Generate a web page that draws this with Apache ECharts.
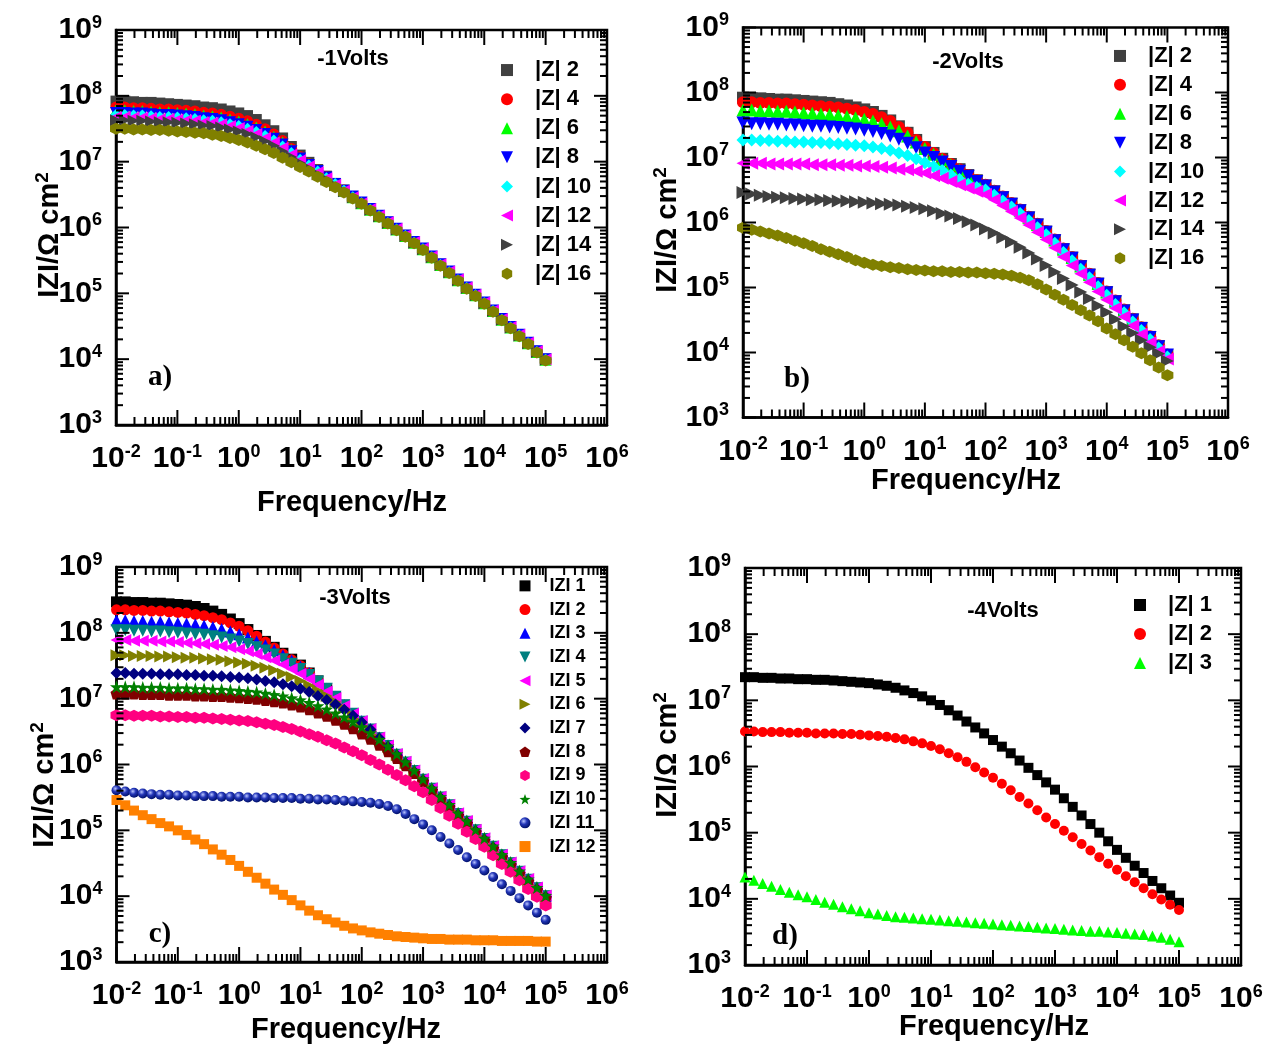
<!DOCTYPE html>
<html>
<head>
<meta charset="utf-8">
<script src="https://cdn.jsdelivr.net/npm/echarts@6/dist/echarts.min.js"></script>
<style>
  html, body { margin: 0; padding: 0; background: #fff; }
  #chart { width: 1273px; height: 1047px; }
</style>
</head>
<body>
<div id="chart"></div>
<script>
// Measurement frequencies (Hz), 7 points per decade from 10 mHz to 100 kHz
const FREQ = [
  0.01, 0.013895, 0.019307, 0.026827, 0.037276, 0.051795, 0.071969,
  0.1, 0.13895, 0.19307, 0.26827, 0.37276, 0.51795, 0.71969,
  1, 1.3895, 1.9307, 2.6827, 3.7276, 5.1795, 7.1969,
  10, 13.895, 19.307, 26.827, 37.276, 51.795, 71.969,
  100, 138.95, 193.07, 268.27, 372.76, 517.95, 719.69,
  1000, 1389.5, 1930.7, 2682.7, 3727.6, 5179.5, 7196.9,
  10000, 13895, 19307, 26827, 37276, 51795, 71969,
  100000
];

// Tick decades of the axes
const X_DECADES = [-2, 6];
const Y_DECADES = [3, 9];

// ---- |Z| data, given as log10(|Z| / Ω cm²) at each frequency ----
// a) -1 V
const A_Z2  = [7.92,7.92,7.91,7.90,7.90,7.89,7.88, 7.87,7.86,7.85,7.83,7.82,7.80,7.77, 7.74,7.70,7.64,7.56,7.47,7.36,7.23, 7.10,6.99,6.88,6.78,6.67,6.57,6.47, 6.38,6.28,6.18,6.08,5.98,5.88,5.78, 5.68,5.56,5.44,5.33,5.21,5.09,4.98, 4.86,4.74,4.61,4.49,4.37,4.25,4.12,4.00];
const A_Z4  = [7.83,7.83,7.82,7.82,7.81,7.80,7.80, 7.79,7.78,7.77,7.75,7.74,7.72,7.69, 7.66,7.62,7.57,7.50,7.42,7.32,7.20, 7.08,6.97,6.87,6.77,6.67,6.57,6.47, 6.38,6.28,6.18,6.08,5.98,5.88,5.78, 5.68,5.56,5.44,5.33,5.21,5.09,4.98, 4.86,4.74,4.61,4.49,4.37,4.25,4.12,4.00];
const A_Z6  = [7.78,7.78,7.77,7.77,7.76,7.75,7.75, 7.74,7.73,7.72,7.70,7.69,7.67,7.64, 7.61,7.57,7.52,7.46,7.38,7.29,7.18, 7.06,6.96,6.86,6.76,6.66,6.56,6.46, 6.37,6.27,6.17,6.07,5.97,5.87,5.77, 5.67,5.55,5.43,5.32,5.20,5.08,4.97, 4.85,4.73,4.60,4.48,4.36,4.24,4.11,3.99];
const A_Z8  = [7.74,7.74,7.73,7.73,7.72,7.71,7.71, 7.70,7.69,7.68,7.66,7.65,7.63,7.60, 7.57,7.53,7.48,7.42,7.35,7.26,7.16, 7.05,6.95,6.86,6.76,6.66,6.56,6.47, 6.38,6.28,6.18,6.08,5.98,5.88,5.78, 5.68,5.56,5.44,5.33,5.21,5.09,4.98, 4.86,4.74,4.61,4.49,4.37,4.25,4.12,4.00];
const A_Z10 = [7.71,7.71,7.70,7.70,7.69,7.68,7.68, 7.67,7.66,7.65,7.63,7.62,7.60,7.57, 7.54,7.50,7.45,7.39,7.32,7.23,7.13, 7.03,6.94,6.85,6.75,6.66,6.56,6.46, 6.37,6.27,6.17,6.07,5.97,5.87,5.77, 5.67,5.55,5.43,5.32,5.20,5.08,4.97, 4.85,4.73,4.60,4.48,4.36,4.24,4.11,3.99];
const A_Z12 = [7.68,7.68,7.67,7.67,7.66,7.65,7.65, 7.64,7.63,7.62,7.60,7.59,7.57,7.54, 7.51,7.47,7.42,7.36,7.29,7.21,7.11, 7.02,6.93,6.84,6.75,6.65,6.56,6.46, 6.37,6.28,6.18,6.08,5.98,5.88,5.78, 5.68,5.56,5.44,5.33,5.21,5.09,4.98, 4.86,4.74,4.61,4.49,4.37,4.25,4.12,4.00];
const A_Z14 = [7.63,7.63,7.62,7.62,7.61,7.60,7.60, 7.59,7.58,7.57,7.55,7.54,7.52,7.49, 7.46,7.42,7.37,7.31,7.24,7.16,7.07, 6.98,6.90,6.81,6.73,6.64,6.55,6.46, 6.37,6.27,6.17,6.07,5.97,5.87,5.77, 5.67,5.55,5.43,5.32,5.20,5.08,4.97, 4.85,4.73,4.60,4.48,4.36,4.24,4.11,3.99];
const A_Z16 = [7.50,7.50,7.49,7.49,7.48,7.48,7.47, 7.46,7.45,7.44,7.43,7.41,7.39,7.36, 7.33,7.29,7.24,7.19,7.13,7.06,6.99, 6.92,6.85,6.77,6.69,6.61,6.53,6.44, 6.36,6.26,6.16,6.06,5.96,5.86,5.76, 5.66,5.54,5.42,5.31,5.19,5.07,4.96, 4.84,4.72,4.59,4.47,4.35,4.23,4.10,3.98];

// b) -2 V
const B_Z2  = [7.92,7.91,7.91,7.90,7.89,7.89,7.88, 7.87,7.86,7.85,7.84,7.82,7.80,7.77, 7.74,7.70,7.64,7.57,7.48,7.38,7.27, 7.16,7.07,6.98,6.90,6.82,6.73,6.65, 6.57,6.48,6.39,6.29,6.19,6.08,5.97, 5.86,5.73,5.59,5.46,5.33,5.20,5.06, 4.93,4.79,4.65,4.51,4.38,4.24,4.10,3.96];
const B_Z4  = [7.85,7.85,7.84,7.84,7.83,7.83,7.82, 7.81,7.80,7.79,7.78,7.77,7.75,7.73, 7.70,7.67,7.62,7.56,7.47,7.38,7.27, 7.16,7.07,6.98,6.90,6.82,6.73,6.65, 6.58,6.49,6.40,6.30,6.20,6.09,5.98, 5.87,5.74,5.60,5.47,5.34,5.21,5.07, 4.94,4.80,4.66,4.52,4.39,4.25,4.11,3.97];
const B_Z6  = [7.73,7.73,7.72,7.72,7.71,7.71,7.70, 7.69,7.68,7.67,7.66,7.65,7.63,7.61, 7.59,7.56,7.52,7.47,7.41,7.33,7.24, 7.14,7.05,6.97,6.89,6.81,6.72,6.64, 6.57,6.48,6.39,6.29,6.19,6.08,5.97, 5.86,5.73,5.59,5.46,5.33,5.20,5.06, 4.93,4.79,4.65,4.51,4.38,4.24,4.10,3.96];
const B_Z8  = [7.53,7.52,7.52,7.51,7.51,7.50,7.50, 7.49,7.48,7.48,7.47,7.46,7.45,7.44, 7.42,7.40,7.37,7.33,7.28,7.22,7.15, 7.07,7.00,6.93,6.86,6.79,6.71,6.63, 6.56,6.47,6.38,6.28,6.18,6.07,5.96, 5.85,5.72,5.58,5.45,5.32,5.19,5.05, 4.92,4.78,4.64,4.50,4.37,4.23,4.09,3.96];
const B_Z10 = [7.27,7.27,7.26,7.26,7.25,7.25,7.24, 7.24,7.23,7.23,7.22,7.21,7.20,7.19, 7.18,7.16,7.14,7.11,7.07,7.03,6.98, 6.92,6.86,6.80,6.73,6.66,6.59,6.54, 6.50,6.42,6.33,6.24,6.14,6.03,5.92, 5.81,5.68,5.54,5.41,5.28,5.15,5.01, 4.88,4.74,4.61,4.47,4.34,4.20,4.07,3.93];
const B_Z12 = [6.91,6.91,6.91,6.90,6.90,6.90,6.90, 6.90,6.89,6.89,6.89,6.88,6.88,6.87, 6.87,6.86,6.85,6.84,6.82,6.81,6.79, 6.76,6.72,6.68,6.63,6.58,6.53,6.48, 6.43,6.35,6.26,6.17,6.07,5.96,5.85, 5.74,5.61,5.47,5.34,5.21,5.08,4.94, 4.81,4.68,4.55,4.41,4.28,4.15,4.02,3.90];
const B_Z14 = [6.46,6.44,6.42,6.40,6.39,6.38,6.37, 6.36,6.35,6.35,6.34,6.33,6.33,6.32, 6.31,6.30,6.29,6.28,6.27,6.25,6.23, 6.21,6.18,6.14,6.10,6.06,6.01,5.96, 5.90,5.84,5.77,5.70,5.62,5.53,5.44, 5.34,5.24,5.14,5.04,4.93,4.83,4.72, 4.62,4.51,4.40,4.30,4.19,4.08,3.98,3.87];
const B_Z16 = [5.92,5.89,5.86,5.83,5.80,5.76,5.72, 5.68,5.64,5.59,5.55,5.51,5.47,5.42, 5.38,5.35,5.33,5.31,5.30,5.28,5.27, 5.26,5.25,5.25,5.24,5.24,5.23,5.23, 5.22,5.21,5.20,5.18,5.15,5.11,5.05, 4.97,4.89,4.81,4.73,4.65,4.57,4.48, 4.37,4.28,4.19,4.09,3.99,3.88,3.77,3.65];

// c) -3 V
const C_Z1  = [8.47,8.47,8.46,8.46,8.45,8.45,8.44, 8.43,8.42,8.40,8.37,8.33,8.28,8.21, 8.14,8.05,7.96,7.87,7.78,7.69,7.60, 7.51,7.39,7.27,7.15,7.03,6.90,6.77, 6.65,6.53,6.40,6.28,6.15,6.03,5.90, 5.77,5.63,5.50,5.38,5.25,5.13,5.00, 4.87,4.75,4.62,4.50,4.37,4.25,4.12,4.00];
const C_Z2  = [8.35,8.35,8.34,8.34,8.33,8.33,8.32, 8.31,8.30,8.28,8.26,8.23,8.20,8.15, 8.10,8.03,7.95,7.86,7.77,7.68,7.59, 7.50,7.39,7.27,7.15,7.03,6.90,6.77, 6.65,6.53,6.40,6.28,6.15,6.03,5.90, 5.77,5.63,5.50,5.38,5.25,5.13,5.00, 4.87,4.75,4.62,4.50,4.37,4.25,4.12,4.00];
const C_Z3  = [8.19,8.19,8.18,8.18,8.17,8.17,8.16, 8.15,8.14,8.13,8.11,8.09,8.06,8.02, 7.98,7.93,7.87,7.81,7.74,7.66,7.58, 7.49,7.39,7.27,7.15,7.03,6.90,6.77, 6.66,6.54,6.41,6.29,6.16,6.04,5.91, 5.78,5.64,5.51,5.39,5.26,5.14,5.01, 4.88,4.76,4.63,4.51,4.38,4.26,4.13,4.01];
const C_Z4  = [8.04,8.04,8.03,8.03,8.02,8.02,8.01, 8.00,7.99,7.98,7.97,7.95,7.93,7.90, 7.87,7.83,7.78,7.73,7.67,7.60,7.53, 7.45,7.36,7.26,7.15,7.03,6.90,6.77, 6.65,6.53,6.40,6.28,6.15,6.03,5.90, 5.77,5.63,5.50,5.38,5.25,5.13,5.00, 4.87,4.75,4.62,4.50,4.37,4.25,4.12,4.00];
const C_Z5  = [7.89,7.89,7.88,7.88,7.88,7.87,7.87, 7.86,7.85,7.84,7.83,7.82,7.80,7.78, 7.75,7.72,7.68,7.63,7.58,7.52,7.45, 7.38,7.30,7.21,7.11,7.01,6.89,6.77, 6.66,6.54,6.41,6.29,6.16,6.04,5.91, 5.78,5.64,5.51,5.39,5.26,5.14,5.01, 4.88,4.76,4.63,4.51,4.38,4.26,4.13,4.01];
const C_Z6  = [7.66,7.66,7.65,7.65,7.65,7.64,7.64, 7.63,7.62,7.62,7.61,7.60,7.59,7.57, 7.55,7.53,7.50,7.47,7.43,7.38,7.33, 7.27,7.20,7.12,7.04,6.95,6.85,6.74, 6.63,6.52,6.39,6.27,6.14,6.02,5.89, 5.76,5.62,5.49,5.37,5.24,5.12,4.99, 4.86,4.74,4.61,4.49,4.36,4.24,4.11,3.99];
const C_Z7  = [7.39,7.39,7.38,7.38,7.38,7.37,7.37, 7.37,7.36,7.36,7.35,7.35,7.34,7.33, 7.32,7.31,7.29,7.27,7.25,7.22,7.19, 7.15,7.10,7.04,6.98,6.91,6.83,6.74, 6.64,6.53,6.40,6.27,6.14,6.02,5.89, 5.76,5.62,5.49,5.37,5.24,5.12,4.99, 4.86,4.74,4.61,4.49,4.36,4.24,4.11,3.99];
const C_Z8  = [7.08,7.08,7.08,7.07,7.07,7.07,7.06, 7.06,7.06,7.05,7.05,7.04,7.04,7.03, 7.02,7.01,7.00,6.98,6.96,6.94,6.91, 6.88,6.84,6.79,6.74,6.68,6.62,6.55, 6.47,6.39,6.30,6.20,6.10,5.99,5.87, 5.74,5.60,5.47,5.35,5.22,5.10,4.97, 4.84,4.72,4.59,4.47,4.34,4.22,4.09,3.97];
const C_Z9  = [6.75,6.75,6.74,6.74,6.74,6.73,6.73, 6.72,6.72,6.71,6.71,6.70,6.69,6.68, 6.67,6.66,6.64,6.62,6.60,6.57,6.54, 6.50,6.46,6.42,6.37,6.32,6.26,6.20, 6.14,6.07,6.00,5.92,5.84,5.76,5.67, 5.58,5.46,5.34,5.22,5.10,4.98,4.87, 4.75,4.62,4.49,4.37,4.24,4.11,3.99,3.86];
const C_Z10 = [7.18,7.18,7.18,7.17,7.17,7.17,7.16, 7.16,7.16,7.15,7.15,7.14,7.14,7.13, 7.12,7.11,7.10,7.08,7.06,7.04,7.01, 6.98,6.94,6.89,6.84,6.78,6.72,6.65, 6.57,6.48,6.38,6.28,6.16,6.04,5.91, 5.78,5.64,5.51,5.39,5.26,5.14,5.01, 4.88,4.76,4.63,4.51,4.38,4.26,4.13,4.01];
const C_Z11 = [5.61,5.59,5.57,5.56,5.55,5.54,5.54, 5.53,5.53,5.52,5.52,5.52,5.51,5.51, 5.51,5.50,5.50,5.50,5.49,5.49,5.49, 5.48,5.48,5.47,5.47,5.46,5.45,5.44, 5.43,5.42,5.40,5.37,5.32,5.25,5.17, 5.09,5.00,4.90,4.80,4.70,4.59,4.49, 4.39,4.29,4.18,4.08,3.97,3.86,3.75,3.64];
const C_Z12 = [5.46,5.38,5.30,5.23,5.17,5.11,5.06, 5.00,4.93,4.86,4.79,4.71,4.63,4.55, 4.46,4.37,4.28,4.19,4.10,4.02,3.94, 3.86,3.78,3.71,3.65,3.60,3.55,3.51, 3.48,3.45,3.43,3.41,3.39,3.38,3.37, 3.36,3.35,3.35,3.34,3.34,3.34,3.33, 3.33,3.33,3.32,3.32,3.32,3.32,3.31,3.31];

// d) -4 V
const D_Z1 = [7.35,7.35,7.34,7.34,7.33,7.33,7.32, 7.32,7.31,7.31,7.30,7.29,7.28,7.27, 7.26,7.24,7.22,7.19,7.15,7.11,7.06, 7.00,6.93,6.85,6.77,6.68,6.59,6.50, 6.40,6.30,6.20,6.09,5.98,5.87,5.76, 5.65,5.52,5.39,5.26,5.13,5.00,4.87, 4.74,4.62,4.50,4.39,4.27,4.16,4.05,3.94];
const D_Z2 = [6.53,6.53,6.52,6.52,6.52,6.51,6.51, 6.51,6.50,6.50,6.50,6.49,6.49,6.48, 6.47,6.46,6.45,6.43,6.41,6.38,6.35, 6.31,6.26,6.20,6.14,6.07,5.99,5.91, 5.83,5.74,5.64,5.54,5.44,5.34,5.23, 5.13,5.03,4.93,4.83,4.73,4.63,4.53, 4.44,4.34,4.25,4.16,4.07,3.99,3.91,3.83];
const D_Z3 = [4.33,4.28,4.23,4.19,4.14,4.10,4.06, 4.03,3.99,3.95,3.92,3.88,3.85,3.82, 3.79,3.77,3.75,3.73,3.72,3.71,3.70, 3.69,3.68,3.67,3.66,3.65,3.64,3.63, 3.62,3.61,3.60,3.59,3.58,3.57,3.56, 3.55,3.54,3.53,3.52,3.51,3.51,3.50, 3.49,3.48,3.47,3.46,3.44,3.42,3.39,3.35];

// ---- marker shapes ----
const TRI_UP    = 'path://M5,0L10,10L0,10Z';
const TRI_DOWN  = 'path://M0,0L10,0L5,10Z';
const TRI_LEFT  = 'path://M0,5L10,0L10,10Z';
const TRI_RIGHT = 'path://M0,0L10,5L0,10Z';
const HEX  = 'path://M0,-10L8.66,-5L8.66,5L0,10L-8.66,5L-8.66,-5Z';
const PENT = 'path://M0,-10L9.51,-3.09L5.88,8.09L-5.88,8.09L-9.51,-3.09Z';
const STAR = 'path://M0,-10L2.35,-3.24L9.51,-3.09L3.8,1.24L5.88,8.09L0,4.1L-5.88,8.09L-3.8,1.24L-9.51,-3.09L-2.35,-3.24Z';
const SPHERE = {
  type: 'radial', x: 0.38, y: 0.35, r: 0.65,
  colorStops: [{ offset: 0, color: '#b8c4ff' }, { offset: 0.45, color: '#2336b8' }, { offset: 1, color: '#00106a' }]
};

const FONT = '"Liberation Sans", Arial, sans-serif';
const SERIF = '"Liberation Serif", "Times New Roman", serif';

// series: [legend text, log|Z| values, colour, symbol, size]
const PANELS = [
  {
    key: 'a', grid: { left: 116, top: 30, width: 491, height: 395 },
    legend: { left: 501, top: 55.5, row: 29.1, font: 22, pad: 17, icon: 12 },
    series: [
      ['|Z| 2',  A_Z2,  '#404040', 'rect', 11],
      ['|Z| 4',  A_Z4,  '#ff0000', 'circle', 11],
      ['|Z| 6',  A_Z6,  '#00ff00', TRI_UP, 12],
      ['|Z| 8',  A_Z8,  '#0000ff', TRI_DOWN, 12],
      ['|Z| 10', A_Z10, '#00ffff', 'diamond', 12],
      ['|Z| 12', A_Z12, '#ff00ff', TRI_LEFT, 12],
      ['|Z| 14', A_Z14, '#404040', TRI_RIGHT, 12],
      ['|Z| 16', A_Z16, '#808000', HEX, 12]
    ]
  },
  {
    key: 'b', grid: { left: 743, top: 27.5, width: 485, height: 390 },
    legend: { left: 1114, top: 41.5, row: 28.9, font: 22, pad: 17, icon: 12 },
    series: [
      ['|Z| 2',  B_Z2,  '#404040', 'rect', 12],
      ['|Z| 4',  B_Z4,  '#ff0000', 'circle', 12],
      ['|Z| 6',  B_Z6,  '#00ff00', TRI_UP, 13],
      ['|Z| 8',  B_Z8,  '#0000ff', TRI_DOWN, 13],
      ['|Z| 10', B_Z10, '#00ffff', 'diamond', 13],
      ['|Z| 12', B_Z12, '#ff00ff', TRI_LEFT, 13],
      ['|Z| 14', B_Z14, '#404040', TRI_RIGHT, 13],
      ['|Z| 16', B_Z16, '#808000', HEX, 12]
    ]
  },
  {
    key: 'c', grid: { left: 116.5, top: 567, width: 490.5, height: 395 },
    legend: { left: 519.5, top: 574, row: 23.7, font: 18, pad: 14, icon: 11 },
    series: [
      ['IZI 1',  C_Z1,  '#000000', 'rect', 11],
      ['IZI 2',  C_Z2,  '#ff0000', 'circle', 11],
      ['IZI 3',  C_Z3,  '#0000ff', TRI_UP, 12],
      ['IZI 4',  C_Z4,  '#008080', TRI_DOWN, 12],
      ['IZI 5',  C_Z5,  '#ff00ff', TRI_LEFT, 12],
      ['IZI 6',  C_Z6,  '#808000', TRI_RIGHT, 12],
      ['IZI 7',  C_Z7,  '#000080', 'diamond', 12],
      ['IZI 8',  C_Z8,  '#800000', PENT, 12],
      ['IZI 9',  C_Z9,  '#ff0080', HEX, 12],
      ['IZI 10', C_Z10, '#008000', STAR, 13],
      ['IZI 11', C_Z11, SPHERE, 'circle', 10],
      ['IZI 12', C_Z12, '#ff8000', 'rect', 10]
    ]
  },
  {
    key: 'd', grid: { left: 745, top: 568, width: 496, height: 397 },
    legend: { left: 1134, top: 590.5, row: 29, font: 22, pad: 17, icon: 12 },
    series: [
      ['|Z| 1', D_Z1, '#000000', 'rect', 10],
      ['|Z| 2', D_Z2, '#ff0000', 'circle', 10],
      ['|Z| 3', D_Z3, '#00ff00', TRI_UP, 11]
    ]
  }
];

// Texts placed on the figure
const PANEL_TITLES = [['-1Volts', 353, 59], ['-2Volts', 968, 62], ['-3Volts', 355, 598], ['-4Volts', 1003, 611]];
const PANEL_TAGS = [['a)', 160, 378], ['b)', 797, 380], ['c)', 160, 935], ['d)', 785, 937]];
const X_TITLES = [[352, 503], [966, 481], [346, 1030], [994, 1027]];
const Y_TITLES = [[50, 235], [668, 230], [45, 785], [668, 755]];

const powLabel = v => '{b|10}{s|' + Math.round(Math.log10(v)) + '}';
const labelRich = {
  b: { fontSize: 30, fontWeight: 'bold', fontFamily: FONT, color: '#000', lineHeight: 32 },
  s: { fontSize: 18, fontWeight: 'bold', fontFamily: FONT, color: '#000', verticalAlign: 'top', lineHeight: 32 }
};

// inward ticks (decades + 2..9 sub-ticks) on all four sides of a plot frame
function frameTicks(idx) {
  const yLo = Math.pow(10, Y_DECADES[0]), yHi = Math.pow(10, Y_DECADES[1]);
  const xLo = Math.pow(10, X_DECADES[0]), xHi = Math.pow(10, X_DECADES[1]);
  const data = [];
  for (let d = X_DECADES[0]; d <= X_DECADES[1]; d++) {
    data.push([Math.pow(10, d), yLo, 1, 0]);
    if (d < X_DECADES[1]) for (let m = 2; m <= 9; m++) data.push([m * Math.pow(10, d), yLo, 0, 0]);
  }
  for (let d = Y_DECADES[0]; d <= Y_DECADES[1]; d++) {
    data.push([xLo, Math.pow(10, d), 1, 1]);
    if (d < Y_DECADES[1]) for (let m = 2; m <= 9; m++) data.push([xLo, m * Math.pow(10, d), 0, 1]);
  }
  return {
    type: 'custom', xAxisIndex: idx, yAxisIndex: idx, silent: true, clip: false, z: 20,
    encode: { x: 0, y: 1 }, data,
    renderItem: (params, api) => {
      const major = api.value(2) === 1;
      const style = { stroke: '#000', lineWidth: 2 };
      if (api.value(3) === 0) {
        const v = api.value(0), L = major ? 15 : 8;
        const b = api.coord([v, yLo]), t = api.coord([v, yHi]);
        return { type: 'group', children: [
          { type: 'line', shape: { x1: b[0], y1: b[1], x2: b[0], y2: b[1] - L }, style },
          { type: 'line', shape: { x1: t[0], y1: t[1], x2: t[0], y2: t[1] + L }, style }
        ] };
      }
      const v = api.value(1), L = major ? 13 : 7;
      const l = api.coord([xLo, v]), r = api.coord([xHi, v]);
      return { type: 'group', children: [
        { type: 'line', shape: { x1: l[0], y1: l[1], x2: l[0] + L, y2: l[1] }, style },
        { type: 'line', shape: { x1: r[0], y1: r[1], x2: r[0] - L, y2: r[1] }, style }
      ] };
    }
  };
}

const grids = [], xAxes = [], yAxes = [], legends = [], series = [];
PANELS.forEach((p, i) => {
  grids.push(Object.assign({ show: true, borderColor: '#000', borderWidth: 2.5, outerBoundsMode: 'none' }, p.grid));
  xAxes.push({
    type: 'log', logBase: 10, gridIndex: i, min: Math.pow(10, X_DECADES[0]), max: Math.pow(10, X_DECADES[1]),
    axisLine: { show: true, lineStyle: { color: '#000', width: 2.5 } },
    axisTick: { show: false }, splitLine: { show: false }, minorTick: { show: false },
    axisLabel: { formatter: powLabel, rich: labelRich, margin: 18, color: '#000' }
  });
  yAxes.push({
    type: 'log', logBase: 10, gridIndex: i, min: Math.pow(10, Y_DECADES[0]), max: Math.pow(10, Y_DECADES[1]),
    axisLine: { show: true, lineStyle: { color: '#000', width: 2.5 } },
    axisTick: { show: false }, splitLine: { show: false }, minorTick: { show: false },
    axisLabel: { formatter: powLabel, rich: labelRich, margin: 14, color: '#000' }
  });
  const names = [];
  p.series.forEach(([label, vals, color, symbol, size]) => {
    const name = p.key + ':' + label;
    names.push(name);
    series.push({
      type: 'scatter', name, xAxisIndex: i, yAxisIndex: i,
      symbol, symbolSize: size,
      itemStyle: { color, opacity: 1 },
      data: vals.map((lz, k) => [FREQ[k], Math.pow(10, lz)])
    });
  });
  series.push(frameTicks(i));
  const L = p.legend;
  legends.push({
    data: names, orient: 'vertical', left: L.left, top: L.top, padding: 0, itemGap: 0,
    itemWidth: L.icon, itemHeight: L.icon, selectedMode: false,
    formatter: n => n.slice(2),
    textStyle: { fontSize: L.font, fontWeight: 'bold', fontFamily: FONT, color: '#000', lineHeight: L.row, padding: [0, 0, 0, L.pad] }
  });
});

const graphics = [];
PANEL_TITLES.forEach(([t, x, y]) => graphics.push({
  type: 'text', x, y, silent: true,
  style: { text: t, font: 'bold 22px ' + FONT, fill: '#000', align: 'center', verticalAlign: 'middle', textAlign: 'center', textVerticalAlign: 'middle' }
}));
PANEL_TAGS.forEach(([t, x, y]) => graphics.push({
  type: 'text', x, y, silent: true,
  style: { text: t, font: 'bold 29px ' + SERIF, fill: '#000', align: 'center', verticalAlign: 'middle', textAlign: 'center', textVerticalAlign: 'middle' }
}));
X_TITLES.forEach(([x, y]) => graphics.push({
  type: 'text', x, y, silent: true,
  style: { text: 'Frequency/Hz', font: 'bold 29px ' + FONT, fill: '#000', align: 'center', verticalAlign: 'middle', textAlign: 'center', textVerticalAlign: 'middle' }
}));
Y_TITLES.forEach(([x, y]) => graphics.push({
  type: 'text', x, y, rotation: Math.PI / 2, silent: true,
  style: {
    text: '{a|IZI/Ω cm}{s|2}', align: 'center', verticalAlign: 'middle', textAlign: 'center', textVerticalAlign: 'middle',
    rich: {
      a: { fontSize: 29, fontWeight: 'bold', fontFamily: FONT, fill: '#000', color: '#000', lineHeight: 34 },
      s: { fontSize: 19, fontWeight: 'bold', fontFamily: FONT, fill: '#000', color: '#000', verticalAlign: 'top', lineHeight: 34 }
    }
  }
}));

const chart = echarts.init(document.getElementById('chart'), null, { renderer: 'canvas' });
chart.setOption({
  animation: false,
  backgroundColor: '#fff',
  grid: grids, xAxis: xAxes, yAxis: yAxes, legend: legends,
  series, graphic: graphics
});
</script>
</body>
</html>
